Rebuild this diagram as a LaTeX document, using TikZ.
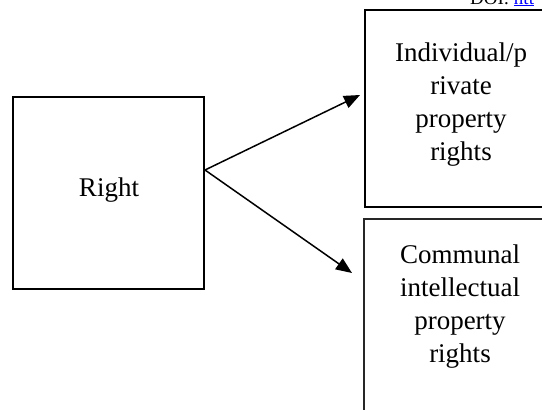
\documentclass[tikz,border=0pt]{standalone}
\usepackage{fontspec}
\setmainfont{Liberation Serif}
\usetikzlibrary{arrows.meta}
\begin{document}
\begin{tikzpicture}[x=1pt,y=-1pt,
  box/.style={draw, line width=2pt, inner sep=0pt},
  thinbox/.style={draw=black!85, line width=1.3pt, inner sep=0pt},
  caption/.style={font=\fontsize{27}{33}\selectfont, align=center, inner sep=0pt},
  link/.style={-{Triangle[length=16pt,width=13pt]}, line width=1.5pt}]
\useasboundingbox (0,0) rectangle (542,410);
\clip (0,0) rectangle (542,410);

% boxes
\node[box, minimum width=191.5pt, minimum height=192pt] (rightbox) at (108.25,192.5) {};
\node[box, minimum width=191pt, minimum height=197pt] (indiv) at (460.5,108.5) {};
\node[thinbox, minimum width=192pt, minimum height=200pt] (communal) at (460,319) {};

% texts
\node[caption] (rightlbl) at (109,190) {Right};
\node[caption] (indivlbl) at (461,105) {Individual/p\\rivate\\property\\rights};
\node[caption] (communallbl) at (460,307) {Communal\\intellectual\\property\\rights};
\node[anchor=base west, inner sep=0pt, font=\fontsize{19}{22}\selectfont] (doi) at (470,4)
  {DOI: {\color{blue}\underline{htt}}};

% connectors
\coordinate (src) at (rightbox.east |- 0,170);
\coordinate (tipA) at (360,95);
\coordinate (tipB) at (352,273);
\draw[link] (src) -- (tipA);
\draw[link] (src) -- (tipB);
\end{tikzpicture}
\end{document}
